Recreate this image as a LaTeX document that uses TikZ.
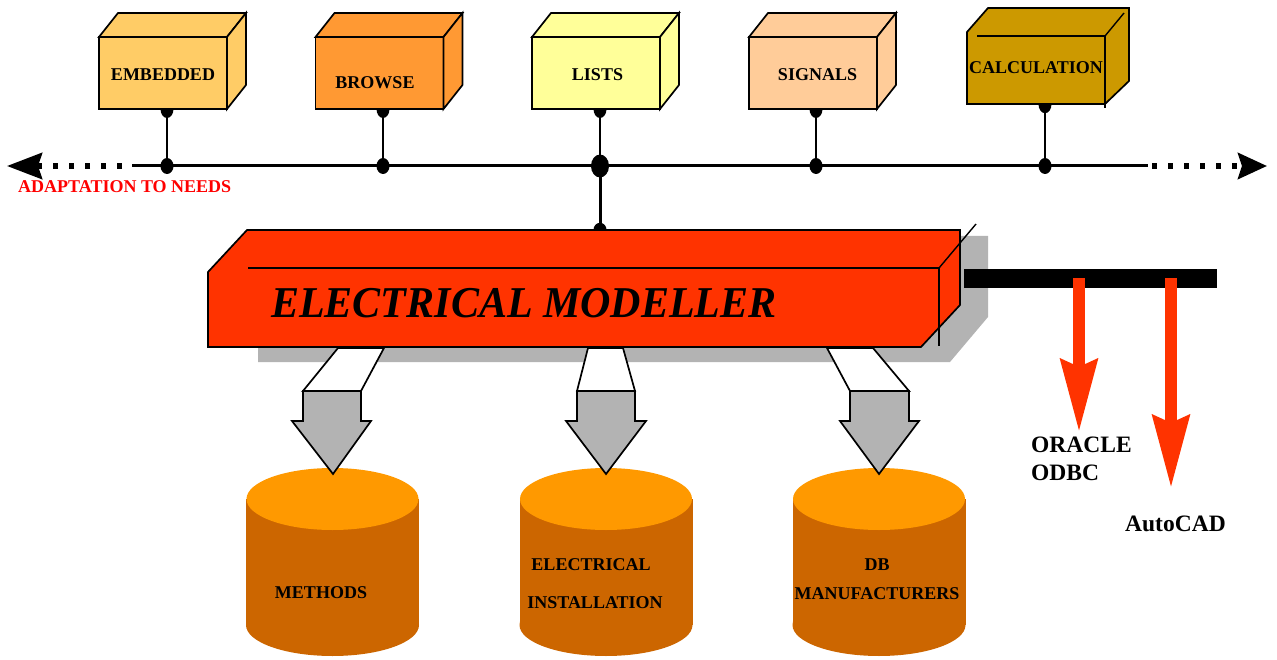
\documentclass[tikz,border=0pt]{standalone}
\usepackage{fontspec}
\setmainfont{Liberation Serif}
\usetikzlibrary{arrows.meta,calc}
\definecolor{cEmb}{HTML}{FFCC66}
\definecolor{cBro}{HTML}{FF9933}
\definecolor{cLis}{HTML}{FFFF99}
\definecolor{cSig}{HTML}{FFCC99}
\definecolor{cCal}{HTML}{CC9900}
\definecolor{cMod}{HTML}{FF3300}
\definecolor{cShad}{HTML}{B3B3B3}
\definecolor{cTop}{HTML}{FF9900}
\definecolor{cBody}{HTML}{CC6600}
\definecolor{cAdapt}{HTML}{FF0000}
\newcommand\mycube[3]{%
  \node[frontface, fill=#3] (#1) at (#2,73) {};
  \draw[edge, fill=#3] (#1.north west) -- ++(19,-24) -- ($(#1.north east)+(19,-24)$) -- (#1.north east) -- cycle;
  \draw[edge, fill=#3] (#1.north east) -- ++(19,-24) -- ($(#1.south east)+(19,-24)$) -- (#1.south east) -- cycle;
}
\newcommand\mycyl[2]{%
  \fill[cBody] (#2-86.5,499) rectangle (#2+86.5,625);
  \fill[cBody] (#2,625) ellipse [x radius=86.5, y radius=31];
  \fill[cTop] (#2,499) ellipse [x radius=86, y radius=31];
  \node[inner sep=0pt, minimum width=173pt, minimum height=126pt] (#1) at (#2,562) {};
}
\newcommand\blockarrow[7]{%
  \draw[edge, fill=white] (#1,348) -- (#2,348) -- (#4,391) -- (#3,391) -- cycle;
  \draw[edge, fill=cShad] (#3,391) -- (#4,391) -- (#4,421) -- (#6,421) -- (#7,474) -- (#5,421) -- (#3,421) -- cycle;
}
\begin{document}
\begin{tikzpicture}[x=1pt,y=-1pt,
  edge/.style={draw=black, line width=1.7pt, line join=miter},
  frontface/.style={draw=black, line width=1.7pt, minimum width=128pt, minimum height=72pt, outer sep=0pt, inner sep=0pt},
  lbl/.style={font=\fontsize{18}{20}\selectfont\bfseries, inner sep=0pt},
  stem/.style={line width=1.6pt},
  dotline/.style={line width=5.5pt, dash pattern=on 5pt off 11pt},
  redarrow/.style={draw=cMod, line width=12pt, -{Stealth[length=72pt,width=36pt,inset=7pt]}}
]
\useasboundingbox (0,0) rectangle (1277,660);

% ---- top cubes ----
\mycube{emb}{163}{cEmb}
\mycube{bro}{379.5}{cBro}
\mycube{lis}{596}{cLis}
\mycube{sig}{813}{cSig}
\node[lbl] (t-emb) at (163,75) {EMBEDDED};
\node[lbl] (t-bro) at (375,83) {BROWSE};
\node[lbl] (t-lis) at (597.5,75) {LISTS};
\node[lbl] (t-sig) at (817.5,75) {SIGNALS};

% CALCULATION block
\node[inner sep=0pt, minimum width=138pt, minimum height=72pt] (cal) at (1036,68) {};
\draw[edge, fill=cCal] (967,32) -- (988,8) -- (1129,8) -- (1129,81) -- (1105,104) -- (967,104) -- cycle;
\draw[line width=1.4pt] (977,36) -- (1105,36) -- (1105,108);
\draw[line width=1.4pt] (1105,36) -- (1124,13);
\node[lbl] (t-cal) at (1036,68) {CALCULATION};

% ---- bus ----
\coordinate (busL) at (132,166);
\coordinate (busR) at (1148,166);
\coordinate (endL) at (7,166);
\coordinate (endR) at (1267,166);
\coordinate (j1) at (167,166);
\coordinate (j2) at (383,166);
\coordinate (j3) at (600,166);
\coordinate (j4) at (816,166);
\coordinate (j5) at (1045,166);
\draw[line width=3pt] (busL) -- (busR);
\draw[dotline, dash phase=6pt, -{Stealth[length=35pt,width=26pt,inset=4pt]}] (busL) -- (endL);
\draw[dotline, dash phase=12pt, -{Stealth[length=29pt,width=26pt,inset=4pt]}] (busR) -- (endR);

\foreach \j/\b in {j1/emb, j2/bro, j3/lis, j4/sig, j5/cal}{
  \draw[stem] (\j) -- (\j |- \b.south);
  \fill (\j |- \b.south) ++(-6.5,0) arc[start angle=180, end angle=0, x radius=6.5, y radius=9];
}
\foreach \j in {j1,j2,j4,j5}{ \fill (\j) ellipse [x radius=6.5, y radius=8]; }
\fill (j3) ellipse [x radius=9, y radius=11.5];

\node[font=\fontsize{18}{20}\selectfont\bfseries, text=cAdapt, inner sep=0pt, anchor=base west] (adapt) at (18,193) {ADAPTATION TO NEEDS};

% ---- modeller ----
\node[inner sep=0pt, minimum width=752pt, minimum height=117pt] (mod) at (584,288.5) {};
\fill[cShad] (258,236) -- (988,236) -- (988,317) -- (950,362) -- (258,362) -- cycle;
\draw[line width=3pt] (j3) -- (j3 |- mod.north);
\fill (j3 |- mod.north) ++(-6.5,0) arc[start angle=180, end angle=360, x radius=6.5, y radius=7];
\draw[edge, fill=cMod] (208,272) -- (247,230) -- (960,230) -- (960,305) -- (921,347) -- (208,347) -- cycle;
\draw[line width=1.4pt] (248,268) -- (939,268) -- (939,346);
\draw[line width=1.4pt] (939,268) -- (976,224);
\node[font=\fontsize{44}{48}\selectfont\bfseries\itshape, inner sep=0pt, anchor=base west] (t-mod) at (271,317) {\scalebox{0.955}[1]{ELECTRICAL MODELLER}};

% ---- cylinders ----
\mycyl{cy1}{332.5}
\mycyl{cy2}{606}
\mycyl{cy3}{879}
\node[lbl] (t-cy1) at (321,593) {METHODS};
\node[lbl] (t-cy2a) at (591,565) {ELECTRICAL};
\node[lbl] (t-cy2b) at (595,603) {INSTALLATION};
\node[lbl] (t-cy3a) at (877,565) {DB};
\node[lbl] (t-cy3b) at (877,594) {MANUFACTURERS};

% ---- block arrows ----
\blockarrow{338}{384}{303}{361}{292}{371}{333}
\blockarrow{588}{623}{577}{635}{566}{646}{606}
\blockarrow{827}{873}{850}{909}{840}{919}{879}

% ---- right bar and red arrows ----
\node[fill=black, inner sep=0pt, minimum width=253pt, minimum height=19pt] (bar) at (1090.5,278.5) {};
\coordinate (tip1) at (1079,432);
\coordinate (tip2) at (1171,488);
\draw[redarrow] (tip1 |- bar.center) -- (tip1);
\draw[redarrow] (tip2 |- bar.center) -- (tip2);
\node[font=\fontsize{23.5}{26}\selectfont\bfseries, inner sep=0pt, anchor=base west] (oracle) at (1031,452) {ORACLE};
\node[font=\fontsize{23.5}{26}\selectfont\bfseries, inner sep=0pt, anchor=base west] (odbc) at (1031,480) {ODBC};
\node[font=\fontsize{23.5}{26}\selectfont\bfseries, inner sep=0pt, anchor=base west] (autocad) at (1125,531) {AutoCAD};
\end{tikzpicture}
\end{document}
